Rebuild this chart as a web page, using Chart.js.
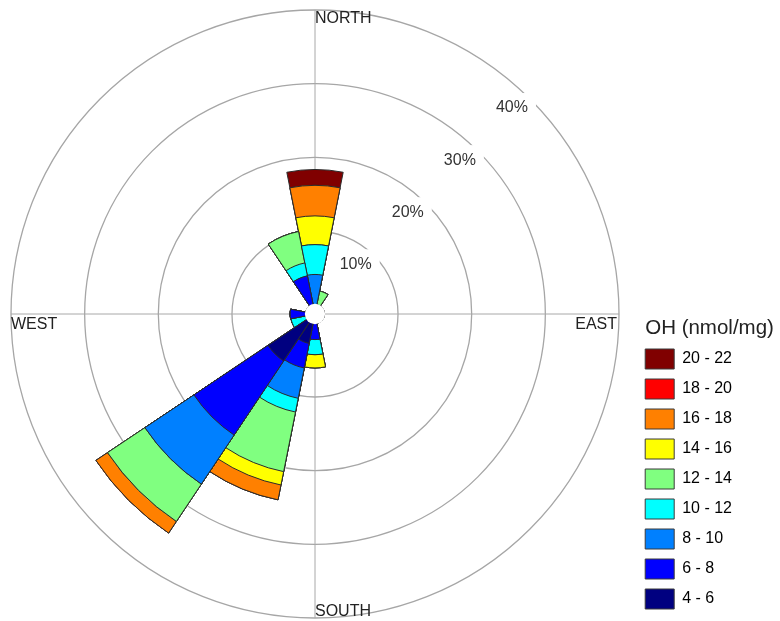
<!DOCTYPE html>
<html>
<head>
<meta charset="utf-8">
<title>OH wind rose</title>
<script src="https://cdn.jsdelivr.net/npm/chart.js@4/dist/chart.umd.min.js"></script>
<style>
  html, body { margin: 0; padding: 0; background: #fff; }
  #wrap { width: 780px; height: 621px; }
</style>
</head>
<body>
<div id="wrap"><canvas id="rose"></canvas></div>
<script>
// Sixteen compass sectors, clockwise from north
const directions = ['N', 'NNE', 'NE', 'ENE', 'E', 'ESE', 'SE', 'SSE',
                    'S', 'SSW', 'SW', 'WSW', 'W', 'WNW', 'NW', 'NNW'];

// Frequency (%) of each OH class per sector
const oh4to6   = [0,    0,   0, 0, 0, 0, 0, 0, 0,    2.8,  6.4,  0,    0,   0, 0, 0];
const oh6to8   = [0,    0,   0, 0, 0, 0, 0, 0, 2.2,  3.4,  12.1, 0,    2.1, 0, 0, 4.0];
const oh8to10  = [4.1,  0,   0, 0, 0, 0, 0, 0, 0,    4.2,  8.0,  0,    0,   0, 0, 0];
const oh10to12 = [4.05, 0,   0, 0, 0, 0, 0, 0, 2.05, 1.9,  0,    2.05, 0,   0, 0, 1.8];
const oh12to14 = [0,    1.9, 0, 0, 0, 0, 0, 0, 0,    8.25, 6.1,  0,    0,   0, 0, 4.35];
const oh14to16 = [3.9,  0,   0, 0, 0, 0, 0, 0, 1.8,  1.85, 0,    0,    0,   0, 0, 0];
const oh16to18 = [4.15, 0,   0, 0, 0, 0, 0, 0, 0,    2.05, 1.9,  0,    0,   0, 0, 0];
const oh18to20 = [0,    0,   0, 0, 0, 0, 0, 0, 0,    0,    0,    0,    0,   0, 0, 0];
const oh20to22 = [2.15, 0,   0, 0, 0, 0, 0, 0, 0,    0,    0,    0,    0,   0, 0, 0];

const classLabels = ['4 - 6', '6 - 8', '8 - 10', '10 - 12', '12 - 14',
                     '14 - 16', '16 - 18', '18 - 20', '20 - 22'];
const classColors = ['#000080', '#0000ff', '#0080ff', '#00ffff', '#80ff80',
                     '#ffff00', '#ff8000', '#ff0000', '#800000'];

const ringValues = [10, 20, 30, 40];
const compassNames = { north: 'NORTH', east: 'EAST', south: 'SOUTH', west: 'WEST' };
const legendTitle = 'OH (nmol/mg)';

const FONT = "'Liberation Sans', Arial, Helvetica, sans-serif";
const classSeries = [oh4to6, oh6to8, oh8to10, oh10to12, oh12to14,
                     oh14to16, oh16to18, oh18to20, oh20to22];

// Stack the classes: each ring of the rose reaches the running total,
// lower classes are drawn on top of the higher ones.
const running = directions.map(() => 0);
const datasets = classSeries.map((series, k) => {
  const cumulative = series.map((v, i) => (running[i] += v));
  return {
    label: classLabels[k],
    data: cumulative.slice(),
    backgroundColor: classColors[k],
    borderColor: '#2b2b2b',
    borderWidth: 1
  };
});

const roseDecor = {
  id: 'roseDecor',
  beforeDatasetsDraw(chart) {
    const s = chart.scales.r;
    const ctx = chart.ctx;
    const cx = s.xCenter, cy = s.yCenter;
    const R = s.getDistanceFromCenterForValue(s.max);
    ctx.save();
    // compass axes
    ctx.strokeStyle = '#a8a8a8';
    ctx.lineWidth = 1;
    ctx.beginPath();
    ctx.moveTo(cx, cy - R); ctx.lineTo(cx, cy + R);
    ctx.moveTo(cx - R, cy); ctx.lineTo(cx + R, cy);
    ctx.stroke();

    // ring labels on a white backdrop, just inside each ring
    ctx.font = '16px ' + FONT;
    ctx.textAlign = 'center';
    ctx.textBaseline = 'middle';
    const d45 = Math.SQRT1_2;
    ringValues.forEach(v => {
      const rr = s.getDistanceFromCenterForValue(v);
      const x = cx + rr * d45 - 18;
      const y = cy - rr * d45 + 9;
      ctx.fillStyle = '#ffffff';
      ctx.fillRect(x - 24, y - 15, 48, 30);
      ctx.fillStyle = '#333333';
      ctx.fillText(v + '%', x, y);
    });

    // compass names
    ctx.fillStyle = '#222222';
    ctx.textAlign = 'left';
    ctx.textBaseline = 'top';
    ctx.fillText(compassNames.north, cx, cy - R + 1);
    ctx.textBaseline = 'alphabetic';
    ctx.fillText(compassNames.south, cx, cy + R - 2);
    ctx.fillText(compassNames.west, cx - R, cy + 15);
    ctx.textAlign = 'right';
    ctx.fillText(compassNames.east, cx + R - 2, cy + 15);
    ctx.restore();
  },
  afterDatasetsDraw(chart) {
    const s = chart.scales.r;
    const ctx = chart.ctx;
    ctx.save();
    ctx.fillStyle = '#ffffff';
    ctx.beginPath();
    ctx.arc(s.xCenter, s.yCenter, s.getDistanceFromCenterForValue(0) + 0.8, 0, Math.PI * 2);
    ctx.fill();
    ctx.restore();
  },
  afterDraw(chart) {
    const lg = chart.legend;
    if (!lg || !lg.legendHitBoxes || !lg.legendHitBoxes.length) return;
    const first = lg.legendHitBoxes[0];
    const ctx = chart.ctx;
    ctx.save();
    ctx.font = '20.5px ' + FONT;
    ctx.fillStyle = '#222222';
    ctx.textAlign = 'left';
    ctx.textBaseline = 'middle';
    ctx.fillText(legendTitle, first.left, first.top - 21);
    ctx.restore();
  }
};

new Chart(document.getElementById('rose'), {
  type: 'polarArea',
  data: { labels: directions, datasets: datasets },
  options: {
    responsive: true,
    maintainAspectRatio: false,
    animation: false,
    layout: { padding: { left: 0, right: 38, top: 10, bottom: 2 } },
    scales: {
      r: {
        type: 'radialLinear',
        min: -1.27,
        max: 40,
        startAngle: -11.25,
        // keep the rose against the left margin rather than centred in the area
        afterFit: (scale) => { scale.xCenter = scale.left + scale.drawingArea + 11; },
        ticks: { display: false, stepSize: 10 },
        grid: {
          circular: true,
          lineWidth: 1.3,
          color: (c) => (c.tick && c.tick.value > 0 ? '#a6a6a6' : 'rgba(0,0,0,0)')
        },
        angleLines: { display: false },
        pointLabels: { display: false }
      }
    },
    plugins: {
      tooltip: { enabled: false },
      legend: {
        position: 'right',
        align: 'end',
        reverse: true,
        onClick: () => {},
        labels: {
          boxWidth: 29,
          boxHeight: 20,
          padding: 10,
          color: '#222222',
          font: { size: 16, family: FONT },
          generateLabels: (chart) => chart.data.datasets.map((ds, i) => ({
            text: ds.label,
            fillStyle: ds.backgroundColor,
            strokeStyle: '#3a3a3a',
            lineWidth: 1,
            hidden: false,
            datasetIndex: i
          }))
        }
      }
    }
  },
  plugins: [roseDecor]
});
</script>
</body>
</html>
